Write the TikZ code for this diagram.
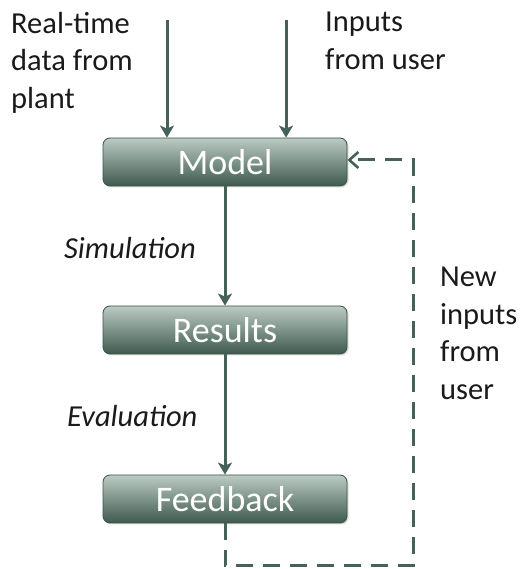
\documentclass[tikz,border=0pt]{standalone}
\usepackage{fontspec}
\setmainfont{Carlito}
\usetikzlibrary{arrows.meta,shadows}
\definecolor{lineC}{HTML}{46605A}
\definecolor{boxTop}{HTML}{BCCBC3}
\definecolor{boxBot}{HTML}{3E5A4E}
\definecolor{boxEdge}{HTML}{3A5247}
\definecolor{txtC}{HTML}{1A1A1A}
\tikzset{
  procbox/.style={draw=boxEdge, line width=0.8pt, rounded corners=7pt,
    top color=boxTop, bottom color=boxBot, minimum width=244pt, minimum height=48pt,
    inner sep=0pt, text=white, font=\fontsize{36}{40}\selectfont,
    drop shadow={shadow xshift=1.5pt, shadow yshift=-1.5pt, opacity=0.3}},
  flow/.style={draw=lineC, line width=3pt, -{Stealth[length=12pt,width=14pt,inset=3pt]}},
  fb/.style={draw=lineC, line width=3pt, dash pattern=on 17pt off 10pt,
    -{Straight Barb[length=9pt,width=16pt,line width=2.6pt]}},
  lbl/.style={text=txtC, align=left, inner sep=0pt, font=\fontsize{30.5}{37.5}\selectfont},
  ital/.style={text=txtC, inner sep=0pt, font=\fontsize{30.5}{36}\selectfont\itshape}
}
\begin{document}
\begin{tikzpicture}[x=1pt,y=1pt]
\useasboundingbox (0,0) rectangle (522,569);
\node[procbox] (model) at (225,407) {Model};
\node[procbox] (results) at (225,239) {Results};
\node[procbox] (feedback) at (225,70) {Feedback};
\node[lbl, anchor=north west] (plant) at (11,557) {Real-time\\data from\\plant};
\node[lbl, anchor=north west] (user) at (325,557) {Inputs\\from user};
\node[ital, anchor=west] (sim) at (64,321) {Simulation};
\node[ital, anchor=west] (eval) at (67,153) {Evaluation};
\node[lbl, anchor=north west] (newin) at (440,302) {New\\inputs\\from\\user};
\coordinate (s1) at (167,549);
\coordinate (s2) at (286,549);
\draw[flow] (s1) -- (s1 |- model.north);
\draw[flow] (s2) -- (s2 |- model.north);
\draw[flow] (model) -- (results);
\draw[flow] (results) -- (feedback);
\coordinate (c1) at (225,3);
\coordinate (c2) at (413,3);
\coordinate (c3) at (413,409);
\draw[fb] (feedback.south) -- (c1) -- (c2) -- (c3) -- (model.east |- c3);
\end{tikzpicture}
\end{document}
